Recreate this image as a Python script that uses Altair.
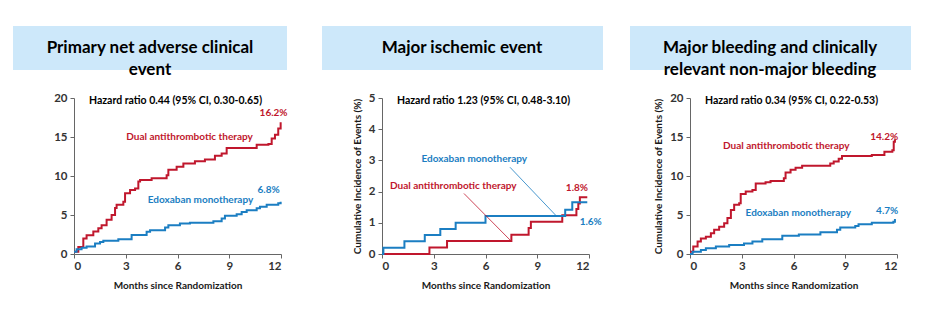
import altair as alt
import pandas as pd

FONT = "Lato"
RED = "#C0172D"
BLUE = "#1B7EC2"
BOX = "#CDE8FA"

series = ["Dual antithrombotic therapy", "Edoxaban monotherapy"]
titles = [
    "Primary net adverse clinical\nevent",
    "Major ischemic event",
    "Major bleeding and clinically\nrelevant non-major bleeding",
]
hazards = [
    "Hazard ratio 0.44 (95% CI, 0.30-0.65)",
    "Hazard ratio 1.23 (95% CI, 0.48-3.10)",
    "Hazard ratio 0.34 (95% CI, 0.22-0.53)",
]
y_title = "Cumulative Incidence of Events (%)"
x_title = "Months since Randomization"
x_ticks = [0, 3, 6, 9, 12]
y_ticks_big = [0, 5, 10, 15, 20]
y_ticks_small = [0, 1, 2, 3, 4, 5]

# Panel 1: primary net adverse clinical event
p1_dual_m = [0, 0.25, 0.54, 0.73, 1.12, 1.41, 1.6, 1.89, 2.18, 2.38, 2.47, 2.86, 2.96, 3.25, 3.54,
             3.73, 3.83, 4.5, 5.37, 5.47, 5.95, 6.34, 7.01, 7.59, 8.17, 8.56, 8.85, 10.59, 11.27,
             11.46, 11.65, 11.84, 11.98]
p1_dual_v = [0.3, 0.9, 2.0, 2.4, 2.9, 3.3, 3.7, 4.4, 5.0, 5.9, 6.3, 6.7, 7.8, 8.2, 8.4,
             9.3, 9.5, 9.7, 10.1, 10.8, 11.2, 11.6, 11.9, 12.1, 12.6, 12.9, 13.6, 14.0, 14.1,
             14.8, 15.3, 16.1, 16.9]
p1_edox_m = [0, 0.15, 0.44, 0.73, 1.22, 1.51, 1.7, 2.57, 3.34, 4.21, 4.41, 5.28, 5.47, 6.14, 6.72,
             8.08, 8.56, 8.75, 9.43, 9.72, 10.01, 10.59, 10.78, 11.17, 11.84, 11.98]
p1_edox_v = [0.3, 0.6, 0.8, 0.95, 1.35, 1.55, 1.7, 1.9, 2.45, 2.85, 3.05, 3.4, 3.7, 3.9, 4.0,
             4.2, 4.55, 4.9, 5.1, 5.4, 5.6, 5.85, 6.05, 6.3, 6.5, 6.7]

# Panel 2: major ischemic event
p2_dual_m = [0, 2.75, 3.77, 7.5, 8.5, 8.63, 10.45, 11.27, 11.38, 11.47, 11.9]
p2_dual_v = [0, 0.21, 0.42, 0.62, 0.83, 1.03, 1.24, 1.44, 1.62, 1.82, 1.82]
p2_edox_m = [0, 0.08, 1.3, 2.48, 3.38, 4.27, 6.0, 10.62, 11.03, 11.9]
p2_edox_v = [0, 0.2, 0.41, 0.61, 0.8, 1.0, 1.22, 1.42, 1.66, 1.66]

# Panel 3: major bleeding and clinically relevant non-major bleeding
p3_dual_m = [0, 0.19, 0.44, 0.63, 0.92, 1.21, 1.4, 1.69, 1.98, 2.17, 2.37, 2.56, 2.85, 2.94, 3.23,
             3.62, 3.81, 4.38, 4.67, 5.44, 5.54, 5.83, 6.12, 6.5, 8.13, 8.33, 8.62, 8.81, 10.54,
             11.27, 11.73, 11.81, 11.88]
p3_dual_v = [0.3, 0.95, 1.6, 2.0, 2.2, 2.65, 3.1, 3.5, 3.95, 4.6, 5.65, 6.3, 6.5, 7.7, 8.0,
             8.2, 9.05, 9.2, 9.35, 9.7, 10.45, 10.8, 11.05, 11.3, 11.6, 11.85, 12.2, 12.55, 12.7,
             13.1, 13.3, 14.4, 14.7]
p3_edox_m = [0, 0.15, 0.63, 0.92, 1.5, 2.27, 3.13, 3.62, 4.19, 5.35, 6.31, 7.56, 8.52, 8.71,
             9.58, 9.77, 10.54, 11.79, 11.88]
p3_edox_v = [0, 0.3, 0.5, 0.75, 0.95, 1.15, 1.35, 1.6, 1.9, 2.35, 2.5, 2.8, 3.1, 3.4,
             3.6, 3.8, 4.0, 4.15, 4.5]

# End-of-curve and series label positions (month, value)
p1_lab_text = ["Dual antithrombotic therapy", "16.2%", "Edoxaban monotherapy", "6.8%"]
p1_lab_m = [6.70, 11.57, 7.33, 11.28]
p1_lab_v = [15.0, 18.1, 6.9, 8.2]
p2_lab_text = ["Edoxaban monotherapy", "Dual antithrombotic therapy", "1.8%", "1.6%"]
p2_lab_m = [5.35, 4.13, 11.3, 12.1]
p2_lab_v = [3.03, 2.19, 2.1, 1.03]
p2_lab_series = [series[1], series[0], series[0], series[1]]
p3_lab_text = ["Dual antithrombotic therapy", "14.2%", "Edoxaban monotherapy", "4.7%"]
p3_lab_m = [5.58, 11.26, 6.28, 11.43]
p3_lab_v = [13.85, 14.96, 5.2, 5.55]

# Leader lines in panel 2 (from label to curve)
p2_lead_m1 = [7.42, 4.75]
p2_lead_v1 = [2.78, 1.94]
p2_lead_m2 = [10.09, 7.42]
p2_lead_v2 = [1.23, 0.45]
p2_lead_series = [series[1], series[0]]

W, H = 207, 156
color_scale = alt.Scale(domain=series, range=[RED, BLUE])


def curves_df(dm, dv, em, ev):
    rows = []
    for m, v in zip(dm, dv):
        rows.append({"month": m, "value": v, "series": series[0]})
    for m, v in zip(em, ev):
        rows.append({"month": m, "value": v, "series": series[1]})
    return pd.DataFrame(rows)


def panel(idx, df, labs, ymax, yticks, ytitle, box_x0, box_x1, title_cx, leads=None):
    def xenc():
        return alt.X("month:Q", scale=alt.Scale(domain=[0, 12], nice=False),
                     axis=alt.Axis(values=x_ticks, title=x_title, format="d",
                                   labelOverlap=False, tickCount=5))

    def yenc():
        return alt.Y("value:Q", scale=alt.Scale(domain=[0, ymax], nice=False),
                     axis=alt.Axis(values=yticks, title=ytitle, format="d",
                                   labelOverlap=False, tickCount=len(yticks)))

    cenc = alt.Color("series:N", scale=color_scale, legend=None)

    tdf = pd.DataFrame({"t": [titles[idx]]})
    box = alt.Chart(tdf).mark_rect(color=BOX).encode(
        x=alt.value(box_x0), x2=alt.value(box_x1), y=alt.value(-72), y2=alt.value(-28))
    ttl = alt.Chart(tdf).mark_text(font=FONT, fontSize=17, fontWeight="bold", color="#000000",
                                   align="center", baseline="middle", lineBreak="\n",
                                   lineHeight=22).encode(
        x=alt.value(title_cx), y=alt.value(-50), text="t:N")
    hz = alt.Chart(pd.DataFrame({"t": [hazards[idx]]})).mark_text(
        font=FONT, fontSize=10.5, fontWeight="bold", color="#000000",
        align="left", baseline="middle").encode(x=alt.value(15), y=alt.value(3), text="t:N")

    lines = alt.Chart(df).mark_line(interpolate="step-after", strokeWidth=2).encode(
        x=xenc(), y=yenc(), color=cenc)
    texts = alt.Chart(labs).mark_text(font=FONT, fontSize=10, fontWeight="bold",
                                       align="center", baseline="middle").encode(
        x=xenc(), y=yenc(), text="label:N", color=cenc)
    layers = [box, ttl, hz, lines, texts]
    if leads is not None:
        rules = alt.Chart(leads).mark_rule(strokeWidth=0.8).encode(
            x=xenc(), y=yenc(), x2="month2:Q", y2="value2:Q", color=cenc)
        layers.append(rules)
    return alt.layer(*layers).properties(width=W, height=H)


df1 = curves_df(p1_dual_m, p1_dual_v, p1_edox_m, p1_edox_v)
df2 = curves_df(p2_dual_m, p2_dual_v, p2_edox_m, p2_edox_v)
df3 = curves_df(p3_dual_m, p3_dual_v, p3_edox_m, p3_edox_v)

lab1 = pd.DataFrame({"month": p1_lab_m, "value": p1_lab_v, "label": p1_lab_text,
                     "series": [series[0], series[0], series[1], series[1]]})
lab2 = pd.DataFrame({"month": p2_lab_m, "value": p2_lab_v, "label": p2_lab_text,
                     "series": p2_lab_series})
lab3 = pd.DataFrame({"month": p3_lab_m, "value": p3_lab_v, "label": p3_lab_text,
                     "series": [series[0], series[0], series[1], series[1]]})
lead2 = pd.DataFrame({"month": p2_lead_m1, "value": p2_lead_v1, "month2": p2_lead_m2,
                      "value2": p2_lead_v2, "series": p2_lead_series})

c1 = panel(0, df1, lab1, 20, y_ticks_big, "", -61, 213, 76)
c2 = panel(1, df2, lab2, 5, y_ticks_small, y_title, -60, 221, 80, leads=lead2)
c3 = panel(2, df3, lab3, 20, y_ticks_big, y_title, -60, 221, 80)

chart = alt.hconcat(c1, c2, c3, spacing=101, bounds="flush").properties(
    padding={"left": 13, "top": 26, "right": 5, "bottom": 5},
    background="#ffffff",
).configure_view(strokeWidth=0).configure_axis(
    grid=False,
    labelOverlap=False,
    labelFont=FONT, titleFont=FONT,
    labelFontSize=11.5, labelFontWeight="bold", labelColor="#333333",
    titleFontSize=10, titleFontWeight="bold", titleColor="#1a1a1a",
    domainColor="#666666", tickColor="#666666", tickSize=4,
).configure_axisX(labelPadding=2, titlePadding=9).configure_axisY(labelPadding=3, titlePadding=6)

chart.save("out.html", embed_options={"renderer": "svg", "actions": False})
